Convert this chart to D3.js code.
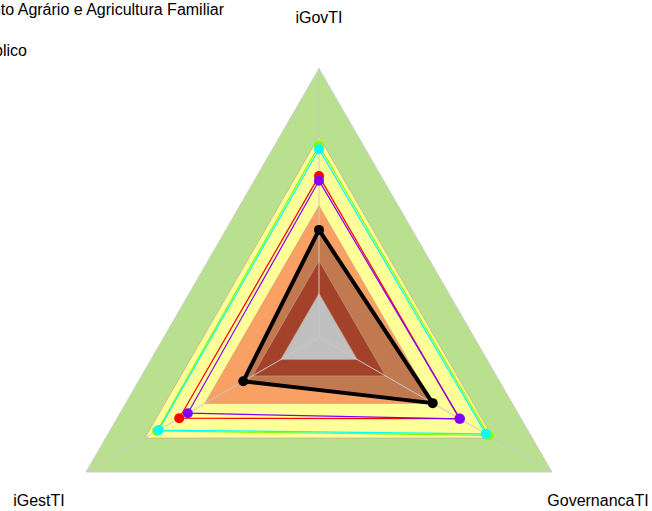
<!DOCTYPE html>
<html>
<head>
<meta charset="utf-8">
<script src="https://cdn.jsdelivr.net/npm/d3@7"></script>
<style>
  html, body { margin: 0; padding: 0; background: #fff; }
  svg { display: block; }
  text { font-family: "Liberation Sans", Arial, sans-serif; font-size: 16px; fill: #000; }
</style>
</head>
<body>
<svg id="chart" width="652" height="511"></svg>
<script>
// ---- data ----
const axes = ["iGovTI", "GovernancaTI", "iGestTI"];
const bandLevels = [1.0, 0.747, 0.49, 0.286, 0.164];
const bandColors = ["#b9e08e", "#ffff99", "#f9a064", "#a4412a", "#c0c0c0"];
const seriesNames = ["Série A", "Série B", "Série C", "Série D", "Ministério do Desenvolvimento Agrário e Agricultura Familiar"];
const seriesColors = ["#7fff00", "#00ffff", "#ff0000", "#8000ff", "#000000"];
const seriesA = [0.714, 0.728, 0.695];
const seriesB = [0.700, 0.716, 0.688];
const seriesC = [0.600, 0.603, 0.600];
const seriesD = [0.583, 0.605, 0.563];
const seriesE = [0.400, 0.488, 0.325];
const legendTexts = ["Ministério do Desenvolvimento Agrário e Agricultura Familiar", "Média do Setor Público"];

// ---- layout ----
const svg = d3.select("#chart");
const cx = 319, cy = 337.5, R = 269;
const r = d3.scaleLinear().domain([0, 1]).range([0, R]);
const angle = d3.scalePoint().domain(axes).range([-90, 270]).padding(0);
// three axes: -90, 30, 150 degrees
const ang = a => (-90 + axes.indexOf(a) * 120) * Math.PI / 180;
const pt = (a, v) => [cx + r(v) * Math.cos(ang(a)), cy + r(v) * Math.sin(ang(a))];
const line = d3.line().curve(d3.curveLinearClosed);

// bands
const gBands = svg.append("g");
bandLevels.forEach((lv, i) => {
  if (i === 3) {
    // brown fill of the black series, drawn between orange and dark red
    gBands.append("path")
      .attr("d", line(axes.map((a, j) => pt(a, seriesE[j]))))
      .attr("fill", "#c17a50");
  }
  gBands.append("path")
    .attr("d", line(axes.map(a => pt(a, lv))))
    .attr("fill", bandColors[i])
    .attr("stroke", i === 0 ? "#cfcfcf" : "#c9a080")
    .attr("stroke-width", i === 0 ? 1 : 0.6);
});

// axis lines
svg.append("g").selectAll("line").data(axes).join("line")
  .attr("x1", cx).attr("y1", cy)
  .attr("x2", a => pt(a, 1)[0]).attr("y2", a => pt(a, 1)[1])
  .attr("stroke", "#c8c8c8").attr("stroke-width", 1);

// series
const allSeries = [seriesA, seriesB, seriesC, seriesD, seriesE];
allSeries.forEach((vals, i) => {
  const pts = axes.map((a, j) => pt(a, vals[j]));
  const isMain = i === 4;
  svg.append("path")
    .attr("d", line(pts))
    .attr("fill", "none")
    .attr("stroke", seriesColors[i])
    .attr("stroke-width", isMain ? 4 : 1.2)
    .attr("stroke-linejoin", "round");
  svg.append("g").selectAll("circle").data(pts).join("circle")
    .attr("cx", d => d[0]).attr("cy", d => d[1])
    .attr("r", isMain ? 5 : 5)
    .attr("fill", seriesColors[i]);
});

// axis labels
const labelPos = {
  "iGovTI": [319, 23, "middle"],
  "GovernancaTI": [598, 506, "middle"],
  "iGestTI": [39, 506, "middle"]
};
svg.append("g").selectAll("text").data(axes).join("text")
  .attr("x", a => labelPos[a][0])
  .attr("y", a => labelPos[a][1])
  .attr("text-anchor", a => labelPos[a][2])
  .text(a => a);

// legend (partly outside the view, as in the original)
svg.append("g").selectAll("text").data(legendTexts).join("text")
  .attr("x", (d, i) => i === 0 ? 224 : 27)
  .attr("y", (d, i) => i === 0 ? 15 : 56)
  .attr("text-anchor", "end")
  .text(d => d);
</script>
</body>
</html>
